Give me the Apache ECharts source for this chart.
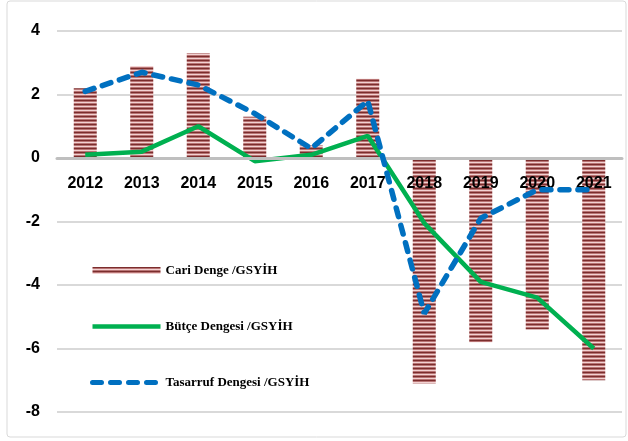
<!DOCTYPE html>
<html>
<head>
<meta charset="utf-8">
<script src="https://cdn.jsdelivr.net/npm/echarts@6/dist/echarts.min.js"></script>
<style>
  html, body { margin: 0; padding: 0; background: #fff; }
  #chart { width: 628px; height: 441px; }
</style>
</head>
<body>
<div id="chart"></div>
<script>
// yillar ve seriler
var years = ['2012', '2013', '2014', '2015', '2016', '2017', '2018', '2019', '2020', '2021'];
var cariDenge = [2.2, 2.9, 3.3, 1.3, 0.4, 2.5, -7.1, -5.8, -5.4, -7.0];
var butceDengesi = [0.1, 0.2, 1.0, -0.1, 0.1, 0.7, -2.05, -3.9, -4.4, -6.0];
var tasarrufDengesi = [2.1, 2.7, 2.3, 1.4, 0.3, 1.8, -4.9, -1.9, -1.0, -1.0];
var seriesNames = ['Cari Denge /GSYİH', 'Bütçe Dengesi /GSYİH', 'Tasarruf Dengesi /GSYİH'];

// cizgili bar deseni
function stripePattern() {
    var c = document.createElement('canvas');
    c.width = 4;
    c.height = 4;
    var ctx = c.getContext('2d');
    ctx.fillStyle = '#f2d2d2';
    ctx.fillRect(0, 0, 4, 4);
    ctx.fillStyle = '#7b2d2d';
    ctx.fillRect(0, 0, 4, 1);
    ctx.fillStyle = '#b87474';
    ctx.fillRect(0, 1, 4, 1);
    ctx.fillRect(0, 3, 4, 1);
    return c;
}

var myChart = echarts.init(document.getElementById('chart'));
var stripes = { image: stripePattern(), repeat: 'repeat' };

var option = {
    backgroundColor: '#fff',
    animation: false,
    graphic: [{
        type: 'rect',
        shape: { x: 7, y: 1, width: 619, height: 436, r: 3 },
        style: { fill: 'none', stroke: '#d9d9d9', lineWidth: 1 },
        z: -1
    }],
    grid: { left: 57, right: 6, top: 31, bottom: 29 },
    legend: {
        orient: 'vertical',
        left: 85,
        top: 259,
        itemWidth: 68,
        itemHeight: 7,
        itemGap: 43,
        textStyle: { fontFamily: 'Liberation Serif', fontWeight: 'bold', fontSize: 13, color: '#000' },
        data: [
            { name: seriesNames[0], icon: 'rect' },
            { name: seriesNames[1], itemStyle: { opacity: 0 }, lineStyle: { width: 4.5 } },
            { name: seriesNames[2], itemStyle: { opacity: 0 }, lineStyle: { width: 5, type: [9, 9], cap: 'round' } }
        ]
    },
    xAxis: {
        type: 'category',
        data: years,
        offset: -254,
        axisLine: { onZero: false, lineStyle: { color: '#bfbfbf', width: 3 } },
        axisTick: { show: false },
        axisLabel: {
            margin: 18,
            fontFamily: 'Liberation Sans',
            fontWeight: 'bold',
            fontSize: 16,
            color: '#000'
        },
        z: 5
    },
    yAxis: {
        type: 'value',
        min: -8,
        max: 4,
        interval: 2,
        axisLine: { show: false },
        axisTick: { show: false },
        splitLine: { lineStyle: { color: '#d9d9d9', width: 2 } },
        axisLabel: {
            margin: 17,
            fontFamily: 'Liberation Sans',
            fontWeight: 'bold',
            fontSize: 16,
            color: '#000'
        }
    },
    series: [
        {
            name: seriesNames[0],
            type: 'bar',
            data: cariDenge,
            barWidth: 23,
            itemStyle: { color: stripes }
        },
        {
            name: seriesNames[1],
            type: 'line',
            data: butceDengesi,
            symbol: 'none',
            lineStyle: { color: '#00b050', width: 4.5 },
            itemStyle: { color: '#00b050' },
            z: 4
        },
        {
            name: seriesNames[2],
            type: 'line',
            data: tasarrufDengesi,
            symbol: 'none',
            lineStyle: { color: '#0070c0', width: 5.5, type: [9, 9], cap: 'round' },
            itemStyle: { color: '#0070c0' },
            z: 6
        }
    ]
};

option && myChart.setOption(option);
</script>
</body>
</html>
